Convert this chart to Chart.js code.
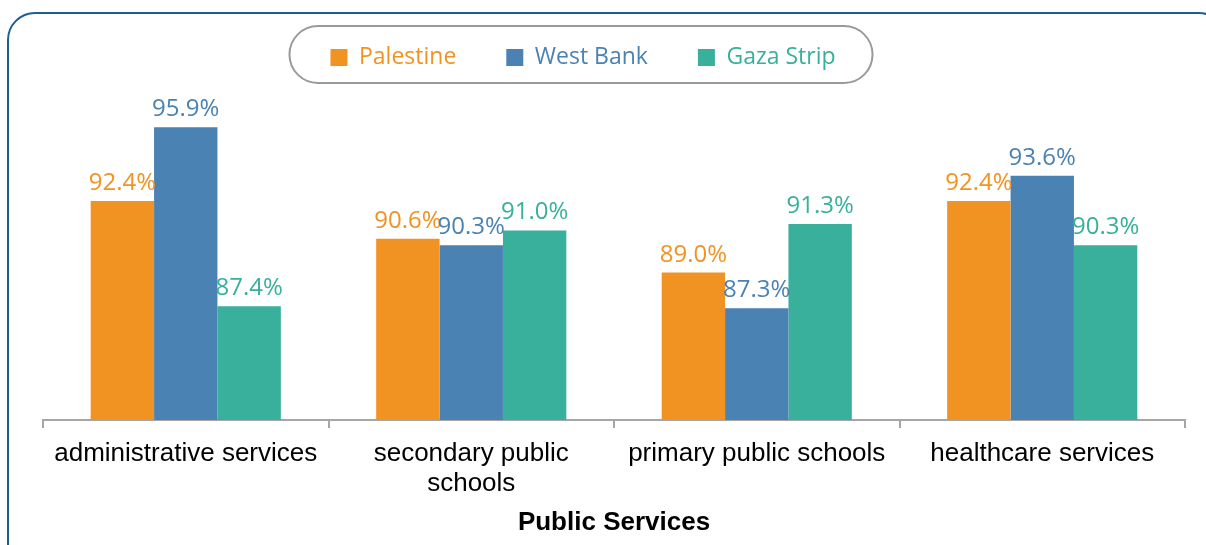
<!DOCTYPE html>
<html>
<head>
<meta charset="utf-8">
<script src="https://cdn.jsdelivr.net/npm/chart.js@4.4.0/dist/chart.umd.min.js"></script>
<style>
    html, body { margin: 0; padding: 0; background: #fff; overflow: hidden; }
    #wrap { position: relative; width: 1206px; height: 545px; }
    #frame {
        position: absolute; left: 7px; top: 12px; width: 1220px; height: 560px;
        border: 2.5px solid #1c5f92; border-radius: 28px; box-sizing: border-box;
    }
    canvas { position: absolute; left: 0; top: 0; }
</style>
</head>
<body>
<div id="wrap">
    <div id="frame"></div>
    <canvas id="mainChart" width="1206" height="545"></canvas>
</div>
<script>
const categories = [
    'administrative services',
    ['secondary public', 'schools'],
    'primary public schools',
    'healthcare services'
]
const palestine = [92.4, 90.6, 89.0, 92.4]
const westBank = [95.9, 90.3, 87.3, 93.6]
const gazaStrip = [87.4, 91.0, 91.3, 90.3]

const colors = {
    palestine: '#f09323',
    westBank: '#4a82b4',
    gaza: '#38b09b'
}

// value labels above each bar, same colour as the bar
const valueLabels = {
    id: 'valueLabels',
    afterDatasetsDraw(chart) {
        const ctx = chart.ctx
        ctx.save()
        ctx.font = '24px "Open Sans"'
        ctx.textAlign = 'center'
        ctx.textBaseline = 'alphabetic'
        chart.data.datasets.forEach((ds, i) => {
            chart.getDatasetMeta(i).data.forEach((bar, j) => {
                ctx.fillStyle = ds.backgroundColor
                ctx.fillText(ds.data[j].toFixed(1) + '%', bar.x, bar.y - 11)
            })
        })
        ctx.restore()
    }
}

// legend sits a bit left of centre and higher up
const legendShift = {
    id: 'legendShift',
    afterLayout(chart) {
        const lg = chart.legend
        const dx = -31
        const dy = -4
        lg.left += dx
        lg.right += dx
        lg.top += dy
        lg.bottom += dy
        lg.legendHitBoxes.forEach(hb => {
            hb.left += dx
            hb.top += dy
        })
    }
}

// rounded grey pill around the legend
const legendPill = {
    id: 'legendPill',
    afterDraw(chart) {
        const boxes = chart.legend.legendHitBoxes
        if (!boxes || !boxes.length) return
        const left = boxes[0].left - 41
        const last = boxes[boxes.length - 1]
        const right = last.left + last.width + 37
        const midY = boxes[0].top + boxes[0].height / 2 + 1
        const h = 57
        const ctx = chart.ctx
        ctx.save()
        ctx.strokeStyle = '#9a9a9a'
        ctx.lineWidth = 2
        ctx.beginPath()
        ctx.roundRect(left, midY - h / 2, right - left, h, h / 2)
        ctx.stroke()
        ctx.restore()
    }
}

new Chart(document.getElementById('mainChart'), {
    type: 'bar',
    data: {
        labels: categories,
        datasets: [
            { label: 'Palestine', data: palestine, backgroundColor: colors.palestine },
            { label: 'West Bank', data: westBank, backgroundColor: colors.westBank },
            { label: 'Gaza Strip', data: gazaStrip, backgroundColor: colors.gaza }
        ]
    },
    options: {
        responsive: false,
        animation: false,
        categoryPercentage: 0.666,
        barPercentage: 1,
        layout: {
            padding: { top: 0, left: 43, right: 21, bottom: 2 }
        },
        plugins: {
            tooltip: { enabled: false },
            legend: {
                position: 'top',
                labels: {
                    boxWidth: 17,
                    boxHeight: 17,
                    padding: 50,
                    font: { family: 'Open Sans', size: 23 },
                    generateLabels(chart) {
                        return chart.data.datasets.map((ds, i) => ({
                            text: ds.label,
                            fillStyle: ds.backgroundColor,
                            strokeStyle: ds.backgroundColor,
                            fontColor: ds.backgroundColor,
                            lineWidth: 0,
                            datasetIndex: i
                        }))
                    }
                }
            }
        },
        scales: {
            y: {
                display: false,
                min: 82,
                max: 98
            },
            x: {
                grid: {
                    display: true,
                    drawOnChartArea: false,
                    drawTicks: true,
                    tickLength: 8,
                    color: '#a6a6a6',
                    lineWidth: 2
                },
                border: { color: '#a6a6a6', width: 2 },
                ticks: {
                    color: '#000',
                    padding: 11,
                    maxRotation: 0,
                    autoSkip: false,
                    font: { family: 'Liberation Sans', size: 26, lineHeight: '30px' }
                },
                title: {
                    display: true,
                    text: 'Public Services',
                    color: '#000',
                    padding: { top: 0, bottom: 7 },
                    font: { family: 'Liberation Sans', size: 26, weight: 'bold', lineHeight: 1 }
                }
            }
        }
    },
    plugins: [legendShift, valueLabels, legendPill]
})
</script>
</body>
</html>
